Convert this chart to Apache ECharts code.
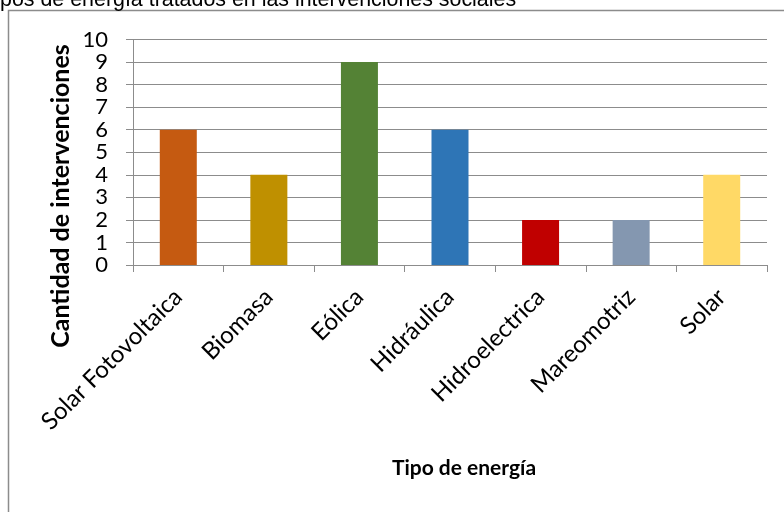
<!DOCTYPE html>
<html>
<head>
<meta charset="utf-8">
<script src="https://cdn.jsdelivr.net/npm/echarts@6/dist/echarts.min.js"></script>
<style>
html,body{margin:0;padding:0;background:#fff;}
#chart{width:784px;height:512px;}
</style>
</head>
<body>
<div id="chart"></div>
<script>
var categories = ['Solar Fotovoltaica', 'Biomasa', 'Eólica', 'Hidráulica', 'Hidroelectrica', 'Mareomotriz', 'Solar'];
var values = [6, 4, 9, 6, 2, 2, 4];
var barColors = ['#C55A11', '#BF9000', '#548235', '#2E75B6', '#C00000', '#8497B0', '#FFD966'];
var yTicks = [0, 1, 2, 3, 4, 5, 6, 7, 8, 9, 10];
var titleText = 'Tipos de energía tratados en las intervenciones sociales';
var yTitle = 'Cantidad de intervenciones';
var xTitle = 'Tipo de energía';

var chart = echarts.init(document.getElementById('chart'), null, {renderer: 'canvas'});
var gridCol = '#8c8c8c';
var option = {
  animation: false,
  backgroundColor: '#fff',
  grid: {left: 133, right: 17, top: 39.5, bottom: 247, containLabel: false},
  xAxis: {
    type: 'category',
    data: categories,
    axisLine: {show: true, lineStyle: {color: gridCol, width: 1}},
    axisTick: {show: true, length: 7, alignWithLabel: false, lineStyle: {color: gridCol}},
    axisLabel: {rotate: 45, margin: 28, color: '#000', fontFamily: 'Lato', fontSize: 24, interval: 0}
  },
  yAxis: {
    type: 'value',
    min: yTicks[0],
    max: yTicks[yTicks.length - 1],
    interval: 1,
    axisLine: {show: true, lineStyle: {color: gridCol, width: 1}},
    axisTick: {show: true, length: 7, lineStyle: {color: gridCol}},
    splitLine: {show: true, lineStyle: {color: gridCol, width: 1}},
    axisLabel: {margin: 25, color: '#000', fontFamily: 'Lato', fontSize: 22, showMinLabel: true, showMaxLabel: true, hideOverlap: false}
  },
  series: [{
    type: 'bar',
    barWidth: 37,
    data: values.map(function (v, i) { return {value: v, itemStyle: {color: barColors[i]}}; })
  }],
  graphic: [
    {type: 'rect', z: -1, shape: {x: 8.5, y: 10.5, width: 800, height: 520}, style: {fill: 'none', stroke: '#8c8c8c', lineWidth: 1.5}},
    {type: 'text', x: -17, y: 0.5, style: {text: titleText, font: '21.4px "Liberation Sans", Arial', fill: '#000', textAlign: 'left', textVerticalAlign: 'middle'}},
    {type: 'text', x: 61, y: 196, rotation: Math.PI / 2, style: {text: yTitle, font: 'bold 25px Lato', fill: '#000', textAlign: 'center', textVerticalAlign: 'middle'}},
    {type: 'text', x: 464, y: 468, style: {text: xTitle, font: 'bold 21px Lato', fill: '#000', textAlign: 'center', textVerticalAlign: 'middle'}}
  ]
};
chart.setOption(option);
</script>
</body>
</html>
